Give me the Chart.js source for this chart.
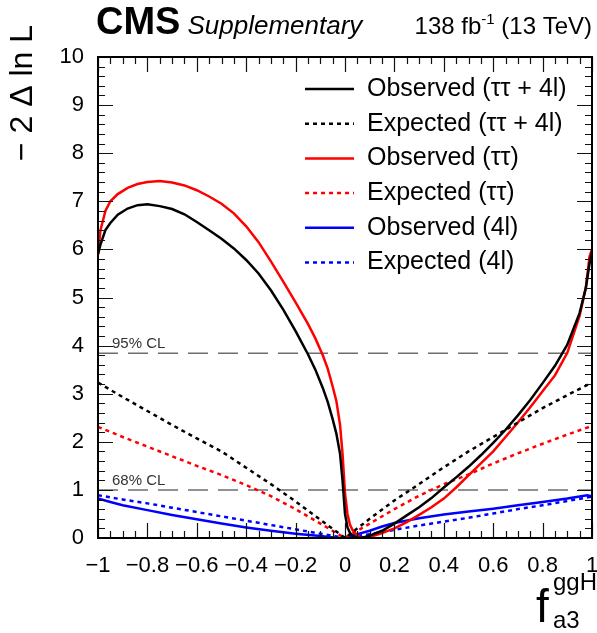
<!DOCTYPE html>
<html>
<head>
<meta charset="utf-8">
<script src="https://cdn.jsdelivr.net/npm/chart.js@4"></script>
<style>
  html, body { margin: 0; padding: 0; background: #fff; }
  #plot { display: block; }
</style>
</head>
<body>
<canvas id="plot" width="597" height="633"></canvas>
<script>
// observed scans (dense grid, steep near 0)
const obsGrid = [-1, -0.99, -0.97, -0.95, -0.92, -0.88, -0.84, -0.8, -0.75, -0.7,
  -0.65, -0.6, -0.55, -0.5, -0.45, -0.4, -0.35, -0.3, -0.25, -0.2,
  -0.15, -0.12, -0.09, -0.07, -0.05, -0.035, -0.02, -0.01, 0, 0.01,
  0.02, 0.03, 0.04, 0.06, 0.08, 0.1, 0.15, 0.2, 0.25, 0.3,
  0.35, 0.4, 0.45, 0.5, 0.55, 0.6, 0.65, 0.7, 0.75, 0.8,
  0.85, 0.9, 0.95, 0.975, 0.99, 1];
const obsComb = [5.9, 6.1, 6.4, 6.55, 6.72, 6.85, 6.92, 6.94, 6.9, 6.84,
  6.73, 6.57, 6.4, 6.22, 6.02, 5.78, 5.5, 5.15, 4.75, 4.3,
  3.82, 3.5, 3.12, 2.83, 2.47, 2.17, 1.75, 1.2, 0.5, 0.22,
  0.11, 0.05, 0.02, 0.0, 0.02, 0.05, 0.15, 0.3, 0.47, 0.64,
  0.83, 1.05, 1.26, 1.48, 1.72, 1.98, 2.25, 2.55, 2.87, 3.22,
  3.58, 4.02, 4.68, 5.2, 5.7, 5.95];
const obsTauTau = [5.9, 6.4, 6.8, 7.0, 7.15, 7.28, 7.36, 7.4, 7.42, 7.39,
  7.33, 7.23, 7.1, 6.95, 6.75, 6.48, 6.15, 5.75, 5.33, 4.9,
  4.45, 4.15, 3.8, 3.52, 3.15, 2.85, 2.35, 1.75, 0.93, 0.5,
  0.28, 0.17, 0.1, 0.02, 0.0, 0.02, 0.1, 0.2, 0.33, 0.48,
  0.64, 0.82, 1.05, 1.3, 1.55, 1.8, 2.1, 2.4, 2.72, 3.05,
  3.38, 3.85, 4.62, 5.2, 5.85, 6.0];

const obs4lGrid = [-1, -0.95, -0.9, -0.8, -0.7, -0.6, -0.5, -0.4, -0.3, -0.2,
  -0.1, -0.03, 0, 0.05, 0.1, 0.15, 0.2, 0.3, 0.4, 0.5,
  0.6, 0.7, 0.8, 0.9, 0.98, 1];
const obs4l = [0.82, 0.75, 0.68, 0.58, 0.48, 0.39, 0.3, 0.22, 0.15, 0.09,
  0.04, 0.0, 0.01, 0.08, 0.15, 0.24, 0.31, 0.41, 0.49, 0.55,
  0.61, 0.68, 0.75, 0.82, 0.89, 0.87];

// expected scans
const expGrid = [-1, -0.9, -0.8, -0.7, -0.6, -0.5, -0.4, -0.3, -0.2, -0.1, 0,
  0.1, 0.2, 0.3, 0.4, 0.5, 0.6, 0.7, 0.8, 0.9, 1];
const expComb = [3.23, 2.93, 2.64, 2.35, 2.07, 1.8, 1.46, 1.12, 0.76, 0.38, 0,
  0.4, 0.78, 1.12, 1.47, 1.8, 2.1, 2.4, 2.7, 2.97, 3.23];
const expTauTau = [2.31, 2.1, 1.9, 1.7, 1.5, 1.31, 1.1, 0.87, 0.6, 0.3, 0,
  0.3, 0.6, 0.88, 1.12, 1.32, 1.55, 1.76, 1.96, 2.15, 2.33];
const exp4l = [0.89, 0.8, 0.72, 0.63, 0.54, 0.45, 0.36, 0.27, 0.18, 0.09, 0,
  0.08, 0.17, 0.26, 0.34, 0.42, 0.51, 0.6, 0.68, 0.77, 0.86];

const clLevels = [1, 3.84];
const clNames = ["68% CL", "95% CL"];

const FONT = "'Liberation Sans', Arial, Helvetica, sans-serif";

function pts(xs, ys) {
  return xs.map((x, i) => ({ x: x, y: ys[i] }));
}

function curve(label, xs, ys, color, dashed) {
  return {
    label: label,
    data: pts(xs, ys),
    borderColor: color,
    borderWidth: 2.5,
    borderDash: dashed ? [4, 4] : [],
    inLegend: true
  };
}

const datasets = [
  curve("Observed (\u03c4\u03c4 + 4l)", obsGrid, obsComb, "#000000", false),
  curve("Expected (\u03c4\u03c4 + 4l)", expGrid, expComb, "#000000", true),
  curve("Observed (\u03c4\u03c4)", obsGrid, obsTauTau, "#ff0000", false),
  curve("Expected (\u03c4\u03c4)", expGrid, expTauTau, "#ff0000", true),
  curve("Observed (4l)", obs4lGrid, obs4l, "#0000ff", false),
  curve("Expected (4l)", expGrid, exp4l, "#0000ff", true)
];

clLevels.forEach((lvl, i) => {
  datasets.push({
    label: clNames[i],
    data: [{ x: -1, y: lvl }, { x: 1, y: lvl }],
    borderColor: "#6e6e6e",
    borderWidth: 1.5,
    borderDash: [20, 10],
    inLegend: false,
    order: 10
  });
});

function fmt(v) {
  const r = Math.round(v * 10) / 10;
  return r < 0 ? "\u2212" + String(-r) : String(r);
}

const decor = {
  id: "decor",
  afterDatasetsDraw(chart) {
    const { ctx, chartArea: a, scales } = chart;
    const x = scales.x, y = scales.y;
    ctx.save();

    // tick marks inside the frame, all four sides
    ctx.strokeStyle = "#111";
    ctx.lineWidth = 1.2;
    ctx.beginPath();
    for (let i = 0; i <= 40; i++) {
      const px = Math.round(x.getPixelForValue(-1 + i * 0.05)) + 0.5;
      const len = i % 4 === 0 ? 15 : 7;
      ctx.moveTo(px, a.bottom); ctx.lineTo(px, a.bottom - len);
      ctx.moveTo(px, a.top); ctx.lineTo(px, a.top + len);
    }
    for (let i = 0; i <= 50; i++) {
      const py = Math.round(y.getPixelForValue(i * 0.2)) + 0.5;
      const len = i % 5 === 0 ? 15 : 7;
      ctx.moveTo(a.left, py); ctx.lineTo(a.left + len, py);
      ctx.moveTo(a.right, py); ctx.lineTo(a.right - len, py);
    }
    ctx.stroke();

    // frame
    ctx.strokeStyle = "#000";
    ctx.lineWidth = 2;
    ctx.strokeRect(a.left, a.top, a.right - a.left, a.bottom - a.top);

    // CL labels
    ctx.fillStyle = "#333";
    ctx.font = "15px " + FONT;
    ctx.textAlign = "left";
    ctx.textBaseline = "alphabetic";
    clLevels.forEach((lvl, i) => {
      ctx.fillText(clNames[i], a.left + 14, y.getPixelForValue(lvl) - 5);
    });

    // legend
    const items = chart.data.datasets.filter((d) => d.inLegend);
    ctx.font = "25px " + FONT;
    ctx.textBaseline = "middle";
    items.forEach((d, i) => {
      const ry = 89 + i * 34.7;
      ctx.strokeStyle = d.borderColor;
      ctx.lineWidth = 2.5;
      ctx.setLineDash(d.borderDash);
      ctx.beginPath();
      ctx.moveTo(305, ry); ctx.lineTo(354, ry);
      ctx.stroke();
      ctx.setLineDash([]);
      ctx.fillStyle = "#000";
      ctx.fillText(d.label, 367, ry);
    });

    // header
    ctx.textBaseline = "alphabetic";
    ctx.fillStyle = "#000";
    ctx.font = "bold 38px " + FONT;
    ctx.fillText("CMS", 96, 34);
    const cmsW = ctx.measureText("CMS").width;
    ctx.font = "italic 26px " + FONT;
    ctx.fillText("Supplementary", 96 + cmsW + 7, 34);

    ctx.font = "24px " + FONT;
    const tail = " (13 TeV)";
    const tailW = ctx.measureText(tail).width;
    ctx.fillText(tail, a.right - tailW, 34);
    ctx.font = "15px " + FONT;
    const supW = ctx.measureText("-1").width;
    ctx.fillText("-1", a.right - tailW - supW, 24);
    ctx.font = "24px " + FONT;
    const headW = ctx.measureText("138 fb").width;
    ctx.fillText("138 fb", a.right - tailW - supW - headW, 34);

    // y title
    ctx.save();
    ctx.translate(32, 25);
    ctx.rotate(-Math.PI / 2);
    ctx.textAlign = "right";
    ctx.font = "32px " + FONT;
    ctx.fillText("\u2212 2 \u0394 ln L", 0, 0);
    ctx.restore();

    // x title
    ctx.textAlign = "left";
    ctx.font = "46px " + FONT;
    ctx.fillText("f", 536, 622);
    ctx.font = "24px " + FONT;
    ctx.fillText("ggH", 553, 590);
    ctx.fillText("a3", 553, 628);

    ctx.restore();
  }
};

Chart.defaults.font.family = FONT;

new Chart(document.getElementById("plot"), {
  type: "line",
  data: { datasets: datasets },
  options: {
    responsive: false,
    animation: false,
    layout: { padding: { top: 57, right: 5, left: 0, bottom: 0 } },
    elements: { point: { radius: 0 }, line: { tension: 0 } },
    plugins: { legend: { display: false }, tooltip: { enabled: false } },
    scales: {
      x: {
        type: "linear",
        min: -1,
        max: 1,
        grid: { display: false },
        border: { display: false },
        ticks: {
          stepSize: 0.2,
          padding: 7,
          maxRotation: 0,
          color: "#000",
          font: { size: 22 },
          callback: (v) => fmt(v)
        },
        afterFit: (s) => {
          s.height = 95;
          s.paddingLeft = 0;
          s.paddingRight = 0;
        }
      },
      y: {
        type: "linear",
        min: 0,
        max: 10,
        grid: { display: false },
        border: { display: false },
        ticks: {
          stepSize: 1,
          padding: 6,
          color: "#000",
          font: { size: 22 },
          callback: (v) => fmt(v)
        },
        afterFit: (s) => {
          s.width = 98;
          s.paddingTop = 0;
          s.paddingBottom = 0;
        }
      }
    }
  },
  plugins: [decor]
});
</script>
</body>
</html>
